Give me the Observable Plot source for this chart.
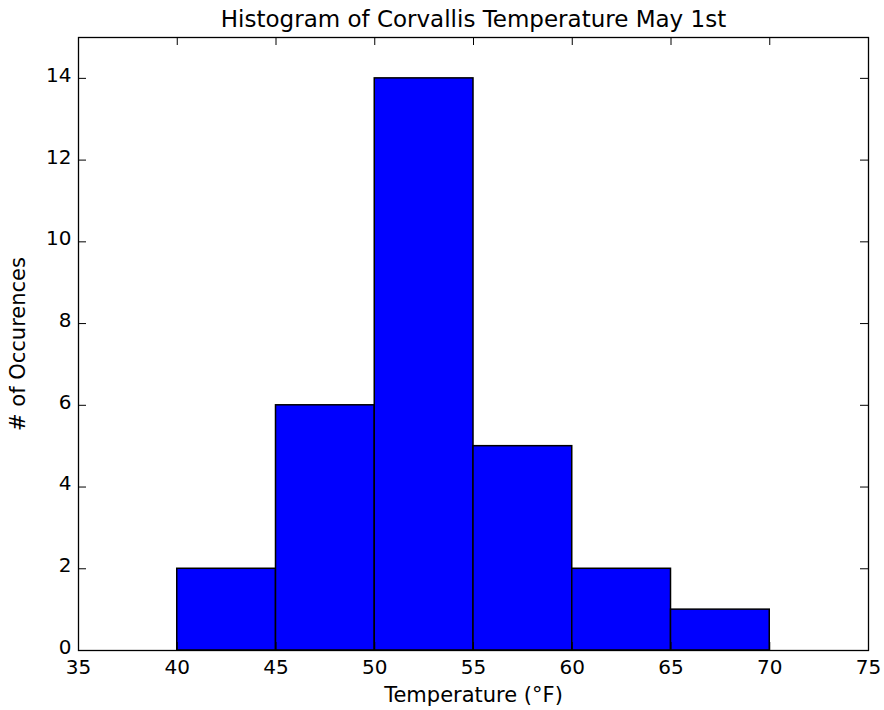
<!DOCTYPE html>
<html><head><meta charset="utf-8">
<script src="https://cdn.jsdelivr.net/npm/d3@7"></script>
<script src="https://cdn.jsdelivr.net/npm/@observablehq/plot@0.6"></script>
<style>body{margin:0;background:#fff}</style>
</head><body><div id="chart"></div>
<script>
const binStart = [40, 45, 50, 55, 60, 65];
const binEnd = [45, 50, 55, 60, 65, 70];
const counts = [2, 6, 14, 5, 2, 1];
const xTicks = [35, 40, 45, 50, 55, 60, 65, 70, 75];
const yTicks = [0, 2, 4, 6, 8, 10, 12, 14];
const title = "Histogram of Corvallis Temperature May 1st";
const xLabel = "Temperature (°F)";
const yLabel = "# of Occurences";

const bins = binStart.map((s, i) => ({x1: s, x2: binEnd[i], y: counts[i]}));
const W = 884, H = 710, mt = 37, mb = 60, ml = 78, mr = 16;
const fh = H - mt - mb, fw = W - ml - mr;

const chart = Plot.plot({
  width: W, height: H,
  marginTop: mt, marginBottom: mb, marginLeft: ml, marginRight: mr,
  style: {fontFamily: "DejaVu Sans", background: "#fff", color: "#000", fontSize: "20px"},
  x: {domain: [35, 75]},
  y: {domain: [0, 15]},
  marks: [
    Plot.rectY(bins, {x1: "x1", x2: "x2", y: "y", fill: "#0000ff", stroke: "#000", strokeWidth: 1.5}),
    Plot.frame({stroke: "#000", strokeWidth: 1.3}),
    Plot.tickX(xTicks, {x: d => d, insetTop: fh - 8, stroke: "#000"}),
    Plot.tickX(xTicks, {x: d => d, insetBottom: fh - 8, stroke: "#000"}),
    Plot.tickY(yTicks, {y: d => d, insetRight: fw - 8, stroke: "#000"}),
    Plot.tickY(yTicks, {y: d => d, insetLeft: fw - 8, stroke: "#000"}),
    Plot.axisX(xTicks, {tickSize: 0, tickPadding: 9, fontSize: 20, label: null, fill: "#000"}),
    Plot.axisY(yTicks, {tickSize: 0, tickPadding: 7, dy: -3, fontSize: 20, label: null, fill: "#000"}),
    Plot.text([title], {frameAnchor: "top", lineAnchor: "middle", dy: -18, fontSize: 23, fill: "#000"}),
    Plot.text([xLabel], {frameAnchor: "bottom", lineAnchor: "middle", dy: 45, fontSize: 21, fill: "#000"}),
    Plot.text([yLabel], {frameAnchor: "left", textAnchor: "middle", lineAnchor: "middle", dx: -60, rotate: -90, fontSize: 21, fill: "#000"})
  ]
});
document.getElementById("chart").append(chart);
</script>
</body></html>
